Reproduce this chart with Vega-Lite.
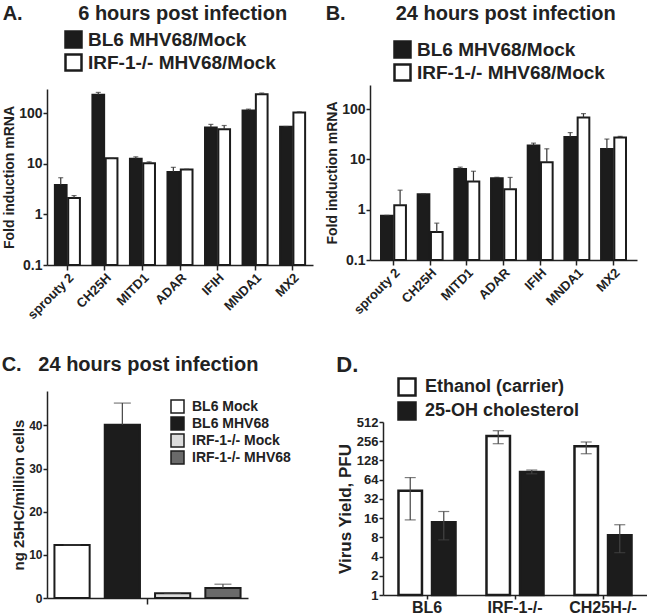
{
  "$schema": "https://vega.github.io/schema/vega-lite/v6.json",
  "background": "white",
  "padding": {"left": 1, "top": 4, "right": 0, "bottom": 0},
  "config": {
    "font": "Liberation Sans",
    "view": {"stroke": null},
    "axis": {"grid": false, "labelFont": "Liberation Sans", "titleFont": "Liberation Sans", "labelFontWeight": "bold", "titleFontWeight": "bold", "labelColor": "#222", "titleColor": "#222", "domainColor": "#222", "tickColor": "#222", "domainWidth": 1.5, "tickWidth": 1.5, "tickSize": 4, "labelPadding": 1, "titlePadding": 2},
    "title": {"font": "Liberation Sans", "fontSize": 20, "fontWeight": "bold", "anchor": "start", "frame": "bounds", "color": "#222"},
    "legend": {"labelFont": "Liberation Sans", "labelFontWeight": "bold", "labelColor": "#222", "padding": 0, "labelLimit": 400, "direction": "vertical", "symbolType": "square", "symbolStrokeColor": "#1c1c1c"}
  },
  "resolve": {"scale": {"fill": "independent", "xOffset": "independent", "x": "independent", "y": "independent"}, "legend": {"fill": "independent"}},
  "spacing": 32,
  "vconcat": [
    {
      "spacing": 12,
      "align": "each",
      "resolve": {"scale": {"fill": "independent", "xOffset": "independent", "x": "independent", "y": "independent"}, "legend": {"fill": "independent"}},
      "hconcat": [
        {
          "width": 266, "height": 180,
          "title": {"text": "A.\u00a0\u00a0\u00a0\u00a0\u00a0\u00a0\u00a0\u00a0\u00a0\u00a06 hours post infection", "offset": 6},
          "data": {"values": [
            {"gene": "sprouty 2", "series": "BL6 MHV68/Mock", "value": 3.8, "upper": 5.3},
            {"gene": "sprouty 2", "series": "IRF-1-/- MHV68/Mock", "value": 2.1, "upper": 2.35},
            {"gene": "CH25H", "series": "BL6 MHV68/Mock", "value": 230, "upper": 257},
            {"gene": "CH25H", "series": "IRF-1-/- MHV68/Mock", "value": 12.8, "upper": 12.8},
            {"gene": "MITD1", "series": "BL6 MHV68/Mock", "value": 12.6, "upper": 13.7},
            {"gene": "MITD1", "series": "IRF-1-/- MHV68/Mock", "value": 10.2, "upper": 10.9},
            {"gene": "ADAR", "series": "BL6 MHV68/Mock", "value": 6.9, "upper": 8.5},
            {"gene": "ADAR", "series": "IRF-1-/- MHV68/Mock", "value": 7.7, "upper": 7.8},
            {"gene": "IFIH", "series": "BL6 MHV68/Mock", "value": 52, "upper": 60},
            {"gene": "IFIH", "series": "IRF-1-/- MHV68/Mock", "value": 48, "upper": 57},
            {"gene": "MNDA1", "series": "BL6 MHV68/Mock", "value": 113, "upper": 120},
            {"gene": "MNDA1", "series": "IRF-1-/- MHV68/Mock", "value": 235, "upper": 250},
            {"gene": "MX2", "series": "BL6 MHV68/Mock", "value": 54, "upper": 54.5},
            {"gene": "MX2", "series": "IRF-1-/- MHV68/Mock", "value": 103, "upper": 106}
          ]},
          "encoding": {
            "x": {"field": "gene", "type": "nominal", "sort": null, "scale": {"paddingInner": 0.333, "paddingOuter": 0.21}, "axis": {"title": null, "labelAngle": -45, "labelFontSize": 13, "tickSize": 5}},
            "xOffset": {"field": "series", "type": "nominal", "sort": null, "scale": {"paddingInner": 0.12, "paddingOuter": 0}}
          },
          "layer": [
            {"mark": {"type": "bar", "stroke": "#1c1c1c", "strokeWidth": 2},
             "encoding": {
               "y": {"field": "value", "type": "quantitative", "stack": null, "scale": {"type": "log", "domain": [0.1, 300], "range": [180, 4]}, "axis": {"title": "Fold induction mRNA", "values": [0.1, 1, 10, 100], "format": "~g", "titleFontSize": 14, "labelFontSize": 14}},
               "fill": {"field": "series", "type": "nominal", "sort": null, "scale": {"domain": ["BL6 MHV68/Mock", "IRF-1-/- MHV68/Mock"], "range": ["#1c1c1c", "#ffffff"]},
                 "legend": {"title": null, "orient": "none", "legendX": 17, "legendY": -55, "symbolSize": 256, "symbolStrokeWidth": 2.5, "labelFontSize": 19, "rowPadding": -4, "labelOffset": 5}}
             }},
            {"mark": {"type": "rule", "color": "#333", "strokeWidth": 1.2},
             "encoding": {"y": {"field": "value", "type": "quantitative", "scale": {"type": "log", "domain": [0.1, 300], "range": [180, 4]}}, "y2": {"field": "upper"}}},
            {"mark": {"type": "tick", "color": "#333", "size": 5, "thickness": 1.2},
             "encoding": {"y": {"field": "upper", "type": "quantitative", "scale": {"type": "log", "domain": [0.1, 300], "range": [180, 4]}}}}
          ]
        },
        {
          "width": 267, "height": 175,
          "title": {"text": "B.\u00a0\u00a0\u00a0\u00a0\u00a0\u00a0\u00a0\u00a0\u00a024 hours post infection", "offset": 16},
          "data": {"values": [
            {"gene": "sprouty 2", "series": "BL6 MHV68/Mock", "value": 0.76, "upper": 0.77},
            {"gene": "sprouty 2", "series": "IRF-1-/- MHV68/Mock", "value": 1.23, "upper": 2.44},
            {"gene": "CH25H", "series": "BL6 MHV68/Mock", "value": 2.03, "upper": 2.05},
            {"gene": "CH25H", "series": "IRF-1-/- MHV68/Mock", "value": 0.36, "upper": 0.54},
            {"gene": "MITD1", "series": "BL6 MHV68/Mock", "value": 6.4, "upper": 7.0},
            {"gene": "MITD1", "series": "IRF-1-/- MHV68/Mock", "value": 3.63, "upper": 5.8},
            {"gene": "ADAR", "series": "BL6 MHV68/Mock", "value": 4.2, "upper": 4.4},
            {"gene": "ADAR", "series": "IRF-1-/- MHV68/Mock", "value": 2.55, "upper": 4.37},
            {"gene": "IFIH", "series": "BL6 MHV68/Mock", "value": 18.9, "upper": 21},
            {"gene": "IFIH", "series": "IRF-1-/- MHV68/Mock", "value": 8.8, "upper": 16.2},
            {"gene": "MNDA1", "series": "BL6 MHV68/Mock", "value": 27.7, "upper": 34},
            {"gene": "MNDA1", "series": "IRF-1-/- MHV68/Mock", "value": 68, "upper": 81},
            {"gene": "MX2", "series": "BL6 MHV68/Mock", "value": 16, "upper": 25.3},
            {"gene": "MX2", "series": "IRF-1-/- MHV68/Mock", "value": 27.3, "upper": 28.6}
          ]},
          "encoding": {
            "x": {"field": "gene", "type": "nominal", "sort": null, "scale": {"paddingInner": 0.32, "paddingOuter": 0.3}, "axis": {"title": null, "labelAngle": -45, "labelFontSize": 13, "tickSize": 5}},
            "xOffset": {"field": "series", "type": "nominal", "sort": null, "scale": {"paddingInner": 0.12, "paddingOuter": 0}}
          },
          "layer": [
            {"mark": {"type": "bar", "stroke": "#1c1c1c", "strokeWidth": 2},
             "encoding": {
               "y": {"field": "value", "type": "quantitative", "stack": null, "scale": {"type": "log", "domain": [0.1, 300]}, "axis": {"title": "Fold induction mRNA", "values": [0.1, 1, 10, 100], "format": "~g", "titleFontSize": 14, "labelFontSize": 14}},
               "fill": {"field": "series", "type": "nominal", "sort": null, "scale": {"domain": ["BL6 MHV68/Mock", "IRF-1-/- MHV68/Mock"], "range": ["#1c1c1c", "#ffffff"]},
                 "legend": {"title": null, "orient": "none", "legendX": 23, "legendY": -45, "symbolSize": 256, "symbolStrokeWidth": 2.5, "labelFontSize": 19, "rowPadding": -4, "labelOffset": 5}}
             }},
            {"mark": {"type": "rule", "color": "#333", "strokeWidth": 1.2},
             "encoding": {"y": {"field": "value", "type": "quantitative", "scale": {"type": "log", "domain": [0.1, 300]}}, "y2": {"field": "upper"}}},
            {"mark": {"type": "tick", "color": "#333", "size": 5, "thickness": 1.2},
             "encoding": {"y": {"field": "upper", "type": "quantitative", "scale": {"type": "log", "domain": [0.1, 300]}}}}
          ]
        }
      ]
    },
    {
      "spacing": 45,
      "align": "each",
      "resolve": {"scale": {"fill": "independent", "xOffset": "independent", "x": "independent", "y": "independent"}, "legend": {"fill": "independent"}},
      "hconcat": [
        {
          "width": 201, "height": 207,
          "title": {"text": "C.\u00a0\u00a0\u00a024 hours post infection", "dx": -10, "offset": 16},
          "data": {"values": [
            {"grp": "all", "series": "BL6 Mock", "value": 12.3, "upper": 12.3},
            {"grp": "all", "series": "BL6 MHV68", "value": 40.2, "upper": 45.2},
            {"grp": "all", "series": "IRF-1-/- Mock", "value": 1.08, "upper": 1.08},
            {"grp": "all", "series": "IRF-1-/- MHV68", "value": 2.3, "upper": 3.2}
          ]},
          "encoding": {
            "x": {"field": "grp", "type": "nominal", "scale": {"paddingInner": 0, "paddingOuter": 0.04}, "axis": {"title": null, "labels": false, "tickSize": 6}},
            "xOffset": {"field": "series", "type": "nominal", "sort": null, "scale": {"paddingInner": 0.3, "paddingOuter": 0}}
          },
          "layer": [
            {"mark": {"type": "bar", "stroke": "#1c1c1c", "strokeWidth": 2},
             "encoding": {
               "y": {"field": "value", "type": "quantitative", "stack": null, "scale": {"domain": [0, 48]}, "axis": {"title": "ng 25HC/million cells", "values": [0, 10, 20, 30, 40], "titleFontSize": 15, "labelFontSize": 12}},
               "fill": {"field": "series", "type": "nominal", "sort": null, "scale": {"domain": ["BL6 Mock", "BL6 MHV68", "IRF-1-/- Mock", "IRF-1-/- MHV68"], "range": ["#ffffff", "#1c1c1c", "#dcdcdc", "#6a6a6a"]},
                 "legend": {"title": null, "orient": "none", "legendX": 123, "legendY": 8, "symbolSize": 169, "symbolStrokeWidth": 1.5, "labelFontSize": 14, "rowPadding": -3, "labelOffset": 7}}
             }},
            {"mark": {"type": "rule", "color": "#444", "strokeWidth": 1.2},
             "encoding": {"y": {"field": "value", "type": "quantitative", "scale": {"domain": [0, 48]}}, "y2": {"field": "upper"}}},
            {"mark": {"type": "tick", "color": "#444", "size": 17, "thickness": 1.2},
             "encoding": {"y": {"field": "upper", "type": "quantitative", "scale": {"domain": [0, 48]}}}}
          ]
        },
        {
          "width": 264, "height": 204,
          "title": {"text": "D.", "fontSize": 22, "offset": 0},
          "data": {"values": [
            {"strain": "BL6", "treatment": "Ethanol (carrier)", "value": 43, "lower": 15, "upper": 69},
            {"strain": "BL6", "treatment": "25-OH cholesterol", "value": 13.8, "lower": 7.3, "upper": 20.3},
            {"strain": "IRF-1-/-", "treatment": "Ethanol (carrier)", "value": 309, "lower": 234, "upper": 374},
            {"strain": "IRF-1-/-", "treatment": "25-OH cholesterol", "value": 84.7, "lower": 79, "upper": 90.6},
            {"strain": "CH25H-/-", "treatment": "Ethanol (carrier)", "value": 213, "lower": 163, "upper": 249},
            {"strain": "CH25H-/-", "treatment": "25-OH cholesterol", "value": 8.6, "lower": 4.6, "upper": 12.6}
          ]},
          "encoding": {
            "x": {"field": "strain", "type": "nominal", "sort": null, "scale": {"paddingInner": 0.352, "paddingOuter": 0.176}, "axis": {"title": null, "labelAngle": 0, "labelFontSize": 16, "tickSize": 4, "labelPadding": 0}},
            "xOffset": {"field": "treatment", "type": "nominal", "sort": null, "scale": {"paddingInner": 0.3, "paddingOuter": 0}}
          },
          "layer": [
            {"mark": {"type": "bar", "stroke": "#1c1c1c", "strokeWidth": 2.5},
             "encoding": {
               "y": {"field": "value", "type": "quantitative", "stack": null, "scale": {"type": "log", "base": 2, "domain": [1, 512], "range": [204, 31]}, "axis": {"title": "Virus Yield, PFU", "values": [1, 2, 4, 8, 16, 32, 64, 128, 256, 512], "format": "d", "titleFontSize": 17, "labelFontSize": 13}},
               "fill": {"field": "treatment", "type": "nominal", "sort": null, "scale": {"domain": ["Ethanol (carrier)", "25-OH cholesterol"], "range": ["#ffffff", "#1c1c1c"]},
                 "legend": {"title": null, "orient": "none", "legendX": 14, "legendY": -14, "symbolSize": 289, "symbolStrokeWidth": 2.5, "labelFontSize": 18, "rowPadding": -6, "labelOffset": 8}}
             }},
            {"mark": {"type": "rule", "color": "#444", "strokeWidth": 1.2},
             "encoding": {"y": {"field": "lower", "type": "quantitative", "scale": {"type": "log", "base": 2, "domain": [1, 512], "range": [204, 31]}}, "y2": {"field": "upper"}}},
            {"mark": {"type": "tick", "color": "#444", "size": 11, "thickness": 1.2},
             "encoding": {"y": {"field": "upper", "type": "quantitative", "scale": {"type": "log", "base": 2, "domain": [1, 512], "range": [204, 31]}}}},
            {"mark": {"type": "tick", "color": "#444", "size": 11, "thickness": 1.2},
             "encoding": {"y": {"field": "lower", "type": "quantitative", "scale": {"type": "log", "base": 2, "domain": [1, 512], "range": [204, 31]}}}}
          ]
        }
      ]
    }
  ]
}
